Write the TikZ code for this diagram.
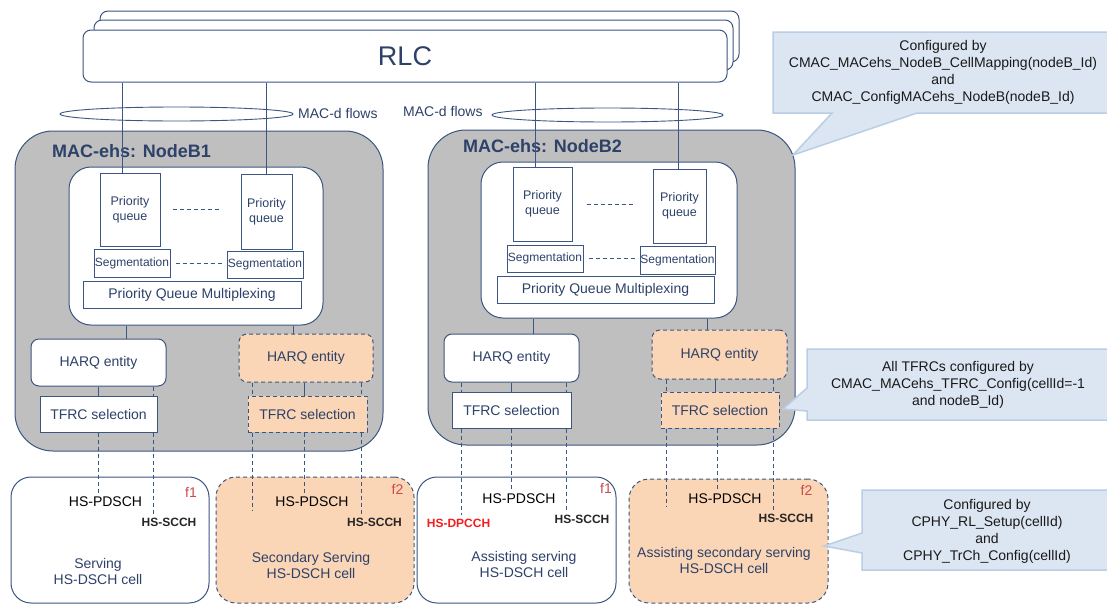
\documentclass[tikz,border=0pt]{standalone}
\usepackage{fontspec}
\setmainfont{Liberation Sans}
\usetikzlibrary{positioning}
\usetikzlibrary{shapes.geometric}

\definecolor{edge}{RGB}{59,86,130}
\definecolor{txt}{RGB}{45,65,105}
\definecolor{macgrey}{RGB}{191,191,191}
\definecolor{peach}{RGB}{250,213,182}
\definecolor{callf}{RGB}{220,230,242}
\definecolor{callb}{RGB}{185,205,229}
\definecolor{freq}{RGB}{205,75,75}
\definecolor{fbred}{RGB}{245,30,30}

\begin{document}
\begin{tikzpicture}[x=1pt,y=-1pt,
		stack/.style={rectangle,rounded corners=8pt,draw=edge,line width=1pt,fill=white,inner sep=0pt},
		nodeb/.style={rectangle,rounded corners=38pt,draw=edge,line width=1pt,fill=macgrey,inner sep=0pt},
		inbox/.style={rectangle,rounded corners=22pt,draw=edge,line width=1pt,fill=white,inner sep=0pt},
		blk/.style={rectangle,draw=edge,line width=1pt,fill=white,inner sep=0pt,text=txt,align=center},
		harq/.style={blk,rounded corners=8pt},
		sec/.style={fill=peach,dash pattern=on 4pt off 3pt},
		cell/.style={rectangle,rounded corners=20pt,draw=edge,line width=1pt,fill=white,inner sep=0pt},
		flow/.style={ellipse,draw=edge,line width=0.9pt,inner sep=0pt},
		link/.style={draw=edge,line width=1pt},
		chan/.style={draw=edge,line width=1pt,dash pattern=on 4pt off 3pt},
		callout/.style={draw=callb,line width=1.5pt,fill=callf},
		note/.style={align=center,text=black!90,font=\fontsize{14}{17}\selectfont},
		title/.style={text=txt,font=\bfseries\fontsize{18}{22}\selectfont},
		lbl/.style={text=txt,font=\fontsize{14}{17}\selectfont},
		pq/.style={font=\fontsize{12.5}{15}\selectfont},
		seg/.style={font=\fontsize{12}{14}\selectfont},
		big/.style={font=\fontsize{14}{17}\selectfont},
		ch/.style={text=black,font=\fontsize{14}{17}\selectfont},
		sc/.style={text=black!85,font=\bfseries\fontsize{12}{14}\selectfont},
		fq/.style={text=freq,font=\fontsize{14}{17}\selectfont},
		celltext/.style={text=txt,align=center,font=\fontsize{14}{16}\selectfont}]
		
		\useasboundingbox (0,0) rectangle (1107,605);
		
		% RLC entities
		\node[stack, minimum width=639, minimum height=51] (rlcC) at (419.5,36.5) {};
		\node[stack, minimum width=639, minimum height=50] (rlcB) at (413.5,45) {};
		\node[stack, minimum width=644, minimum height=52, text=txt, font=\fontsize{27}{30}\selectfont] (rlc) at (405,56) {RLC};
		
		% MAC-d flows
		\node[flow, minimum width=233, minimum height=14] (flowA) at (176.5,114) {};
		\node[flow, minimum width=231, minimum height=14] (flowB) at (607.5,115) {};
		\node[lbl, anchor=west, inner sep=0pt] (flowAL) at (298,113) {MAC-d flows};
		\node[lbl, anchor=west, inner sep=0pt] (flowBL) at (403,111) {MAC-d flows};
		
		% NodeB boxes
		\node[nodeb, minimum width=368, minimum height=320] (nbA) at (199,291) {};
		\node[nodeb, minimum width=367, minimum height=315] (nbB) at (611.5,287.5) {};
		\node[title, anchor=west, inner sep=0pt] (nbAL) at (52,151) {MAC-ehs: NodeB1};
		\node[title, anchor=west, inner sep=0pt] (nbBL) at (463,146) {MAC-ehs: NodeB2};
		\node[inbox, minimum width=254, minimum height=158] (inA) at (196,246) {};
		\node[inbox, minimum width=256, minimum height=156] (inB) at (609,240) {};
		
		% priority queues
		\node[blk, pq, minimum width=60, minimum height=73] (pqA1) at (130,209.5) {Priority\\queue};
		\node[blk, pq, minimum width=51, minimum height=75] (pqA2) at (266.5,211.5) {Priority\\queue};
		\node[blk, pq, minimum width=59, minimum height=74] (pqB1) at (542.5,204) {Priority\\queue};
		\node[blk, pq, minimum width=53, minimum height=74] (pqB2) at (679.5,206) {Priority\\queue};
		
		% segmentation
		\node[blk, seg, minimum width=76, minimum height=28] (segA1) at (132,263) {Segmentation};
		\node[blk, seg, minimum width=76, minimum height=27] (segA2) at (265,264.5) {Segmentation};
		\node[blk, seg, minimum width=76, minimum height=27] (segB1) at (545,258.5) {Segmentation};
		\node[blk, seg, minimum width=75, minimum height=28] (segB2) at (677.5,260) {Segmentation};
		
		% multiplexing
		\node[blk, big, minimum width=218, minimum height=27] (pqmA) at (192,294.5) {Priority Queue Multiplexing};
		\node[blk, big, minimum width=217, minimum height=27] (pqmB) at (605.5,289.5) {Priority Queue Multiplexing};
		
		% HARQ and TFRC
		\node[harq, big, minimum width=135, minimum height=47] (harqA) at (98.5,362.5) {HARQ entity};
		\node[harq, big, sec, minimum width=134, minimum height=48] (harqB) at (306,358) {HARQ entity};
		\node[harq, big, minimum width=135, minimum height=48] (harqC) at (511.5,358) {HARQ entity};
		\node[harq, big, sec, minimum width=135, minimum height=49] (harqD) at (719.5,354.5) {HARQ entity};
		\node[blk, big, minimum width=117, minimum height=36] (tfrcA) at (98.5,414) {TFRC selection};
		\node[blk, big, sec, minimum width=119, minimum height=36] (tfrcB) at (307.5,414) {TFRC selection};
		\node[blk, big, minimum width=119, minimum height=36] (tfrcC) at (511.5,410) {TFRC selection};
		\node[blk, big, sec, minimum width=118, minimum height=36] (tfrcD) at (720,410) {TFRC selection};
		
		% cells
		\node[cell, minimum width=198, minimum height=126] (cellA) at (110,540) {};
		\node[cell, sec, minimum width=198, minimum height=126] (cellB) at (315,540) {};
		\node[cell, minimum width=199, minimum height=126] (cellC) at (516.5,540) {};
		\node[cell, sec, minimum width=199, minimum height=124] (cellD) at (728.5,541) {};
		
		% cell labels
		\node[ch] (pdschA) at (105.5,502) {HS-PDSCH};
		\node[sc] (scchA) at (169,522) {HS-SCCH};
		\node[fq, inner sep=0pt] (fA) at (191,492) {f1};
		\node[celltext] (capA) at (98,571) {Serving\\HS-DSCH cell};
		\node[ch] (pdschB) at (312,502) {HS-PDSCH};
		\node[sc] (scchB) at (374.5,522) {HS-SCCH};
		\node[fq, inner sep=0pt] (fB) at (397.5,489) {f2};
		\node[celltext] (capB) at (311,565) {Secondary Serving\\HS-DSCH cell};
		\node[sc, text=fbred] (dpcch) at (458.5,523) {HS-DPCCH};
		\node[ch] (pdschC) at (519,499) {HS-PDSCH};
		\node[sc] (scchC) at (582,519) {HS-SCCH};
		\node[fq, inner sep=0pt] (fC) at (606,488) {f1};
		\node[celltext] (capC) at (524,564) {Assisting serving\\HS-DSCH cell};
		\node[ch] (pdschD) at (725,499) {HS-PDSCH};
		\node[sc] (scchD) at (786,518) {HS-SCCH};
		\node[fq, inner sep=0pt] (fD) at (806.5,490) {f2};
		\node[celltext] (capD) at (724,560) {Assisting secondary serving\\HS-DSCH cell};
		
		% RLC to priority queues
		\draw[link] ([xshift=-8pt]pqA1.north) -- ([xshift=-8pt]pqA1.north |- rlc.south);
		\draw[link] (pqA2.north) -- (pqA2.north |- rlc.south);
		\draw[link] ([xshift=-7.5pt]pqB1.north) -- ([xshift=-7.5pt]pqB1.north |- rlc.south);
		\draw[link] ([xshift=-1.5pt]pqB2.north) -- ([xshift=-1.5pt]pqB2.north |- rlc.south);
		
		% dots between queues
		\draw[link, dash pattern=on 4pt off 3pt] ([xshift=12pt]pqA1.east) -- ([xshift=-21pt]pqA1.east -| pqA2.west);
		\draw[link, dash pattern=on 4pt off 3pt] ([xshift=5pt]segA1.east) -- ([xshift=-5pt]segA1.east -| segA2.west);
		\draw[link, dash pattern=on 4pt off 3pt] ([xshift=14pt]pqB1.east) -- ([xshift=-19pt]pqB1.east -| pqB2.west);
		\draw[link, dash pattern=on 4pt off 3pt] ([xshift=5pt]segB1.east) -- ([xshift=-5pt]segB1.east -| segB2.west);
		
		% multiplexing to HARQ
		\draw[link] ([xshift=27.5pt]harqA.north) -- ([xshift=27.5pt]harqA.north |- inA.south);
		\draw[link] ([xshift=-13pt]harqB.north) -- ([xshift=-13pt]harqB.north |- inA.south);
		\draw[link] ([xshift=21.5pt]harqC.north) -- ([xshift=21.5pt]harqC.north |- inB.south);
		\draw[link] ([xshift=-12.5pt]harqD.north) -- ([xshift=-12.5pt]harqD.north |- inB.south);
		
		% HARQ to TFRC
		\draw[link] (harqA.south) -- (harqA.south |- tfrcA.north);
		\draw[chan] ([xshift=54.5pt]harqA.south) -- ([xshift=54.5pt]harqA.south |- tfrcA.north);
		\draw[chan] ([xshift=-54pt]harqB.south) -- ([xshift=-54pt]harqB.south |- tfrcB.north);
		\draw[link] ([xshift=-2pt]harqB.south) -- ([xshift=-2pt]harqB.south |- tfrcB.north);
		\draw[chan] ([xshift=55pt]harqB.south) -- ([xshift=55pt]harqB.south |- tfrcB.north);
		\draw[chan] ([xshift=-50.5pt]harqC.south) -- ([xshift=-50.5pt]harqC.south |- tfrcC.north);
		\draw[link] (harqC.south) -- (harqC.south |- tfrcC.north);
		\draw[chan] ([xshift=54.5pt]harqC.south) -- ([xshift=54.5pt]harqC.south |- tfrcC.north);
		\draw[chan] ([xshift=-53.5pt]harqD.south) -- ([xshift=-53.5pt]harqD.south |- tfrcD.north);
		\draw[link] ([xshift=-4pt]harqD.south) -- ([xshift=-4pt]harqD.south |- tfrcD.north);
		\draw[chan] ([xshift=53.5pt]harqD.south) -- ([xshift=53.5pt]harqD.south |- tfrcD.north);
		
		% TFRC to cells
		\draw[chan] (tfrcA.south) -- (tfrcA.south |- pdschA.north);
		\draw[chan] ([xshift=54.5pt]tfrcA.south) -- ([xshift=54.5pt]tfrcA.south |- scchA.north);
		\draw[chan] ([xshift=-55.5pt]tfrcB.south) -- ([xshift=-55.5pt]tfrcB.south |- pdschB.south);
		\draw[chan] ([xshift=-3.5pt]tfrcB.south) -- ([xshift=-3.5pt]tfrcB.south |- pdschB.north);
		\draw[chan] ([xshift=53.5pt]tfrcB.south) -- ([xshift=53.5pt]tfrcB.south |- scchB.north);
		\draw[chan] ([xshift=-50.5pt]tfrcC.south) -- ([xshift=-50.5pt]tfrcC.south |- dpcch.north);
		\draw[chan] (tfrcC.south) -- (tfrcC.south |- pdschC.north);
		\draw[chan] ([xshift=54.5pt]tfrcC.south) -- ([xshift=54.5pt]tfrcC.south |- scchC.north);
		\draw[chan] ([xshift=-54pt]tfrcD.south) -- ([xshift=-54pt]tfrcD.south |- pdschD.south);
		\draw[chan] ([xshift=-3pt]tfrcD.south) -- ([xshift=-3pt]tfrcD.south |- pdschD.north);
		\draw[chan] ([xshift=53pt]tfrcD.south) -- ([xshift=53pt]tfrcD.south |- scchD.north);
		
		% config notes
		\draw[callout] (773,32) -- (1112,32) -- (1112,113) -- (917,113) -- (793,155) -- (832,113) -- (773,113) -- cycle;
		\node[note] (noteMac) at (943,72.5) {Configured by\\CMAC\_MACehs\_NodeB\_CellMapping(nodeB\_Id)\\and\\CMAC\_ConfigMACehs\_NodeB(nodeB\_Id)};
		\draw[callout] (807,349) -- (1112,349) -- (1112,420) -- (807,420) -- (807,411) -- (783,409) -- (807,388) -- cycle;
		\node[note] (noteTfrc) at (958,385) {All TFRCs configured by\\CMAC\_MACehs\_TFRC\_Config(cellId=-1\\and nodeB\_Id)};
		\draw[callout] (862,490) -- (1112,490) -- (1112,570) -- (862,570) -- (862,553) -- (824,546) -- (862,533) -- cycle;
		\node[note] (notePhy) at (987,531.5) {Configured by\\CPHY\_RL\_Setup(cellId)\\and\\CPHY\_TrCh\_Config(cellId)};
		
\end{tikzpicture}
\end{document}
